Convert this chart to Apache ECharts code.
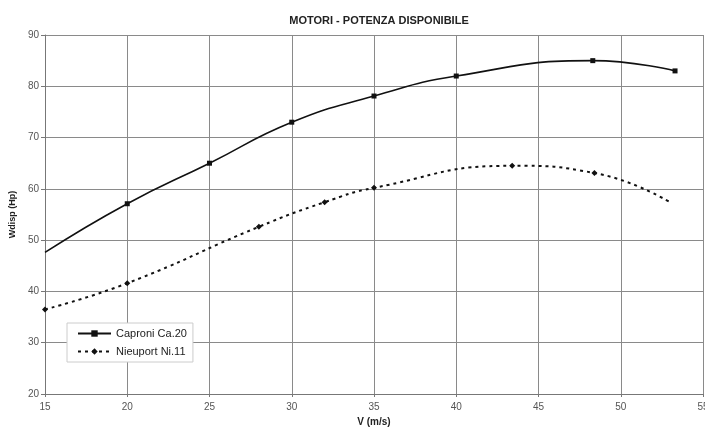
<!DOCTYPE html>
<html>
<head>
<meta charset="utf-8">
<script src="https://cdn.jsdelivr.net/npm/echarts@6/dist/echarts.min.js"></script>
<style>
  html, body { margin: 0; padding: 0; background: #fff; }
  #chart { width: 705px; height: 430px; }
</style>
</head>
<body>
<div id="chart"></div>
<script>
// values
const seriesNames = ['Caproni Ca.20', 'Nieuport Ni.11']

// [V, power, hasMarker]
const caproniPoints = [
    [15, 47.6, false],
    [20, 57.1, true],
    [25, 65.0, true],
    [30, 73.0, true],
    [35, 78.1, true],
    [40, 82.0, true],
    [48.3, 85.0, true],
    [53.3, 83.0, true]
]
const nieuportPoints = [
    [15, 36.5, true],
    [20, 41.6, true],
    [28, 52.6, true],
    [32, 57.4, true],
    [35, 60.2, true],
    [43.4, 64.5, true],
    [48.4, 63.1, true],
    [53.1, 57.2, false]
]

const xTicks = { min: 15, max: 55, interval: 5 }
const yTicks = { min: 20, max: 90, interval: 10 }

const font = '"Liberation Sans Narrow", "Liberation Sans", Arial, sans-serif'

function toData(points) {
    return points.map(p => p[2] ? [p[0], p[1]] : { value: [p[0], p[1]], symbol: 'none' })
}

const chart = echarts.init(document.getElementById('chart'))

chart.setOption({
    animation: false,
    backgroundColor: '#fff',
    title: {
        text: 'MOTORI - POTENZA DISPONIBILE',
        left: 374,
        textAlign: 'center',
        top: 10,
        textStyle: { fontFamily: font, fontSize: 11, fontWeight: 'bold', color: '#222' }
    },
    grid: { left: 45, right: 2, top: 35, bottom: 36, outerBoundsMode: 'none', containLabel: false },
    legend: {
        orient: 'vertical',
        left: 67,
        top: 323,
        itemWidth: 33,
        itemHeight: 8,
        itemGap: 7,
        padding: [5, 6, 5, 10],
        backgroundColor: '#fff',
        borderColor: '#ccc',
        borderWidth: 1,
        textStyle: { fontFamily: font, fontSize: 11, color: '#222' },
        data: seriesNames
    },
    xAxis: {
        type: 'value',
        min: xTicks.min,
        max: xTicks.max,
        interval: xTicks.interval,
        name: 'V (m/s)',
        nameLocation: 'middle',
        nameGap: 22,
        nameTextStyle: { fontFamily: font, fontSize: 10, fontWeight: 'bold', color: '#222' },
        axisLine: { lineStyle: { color: '#777' } },
        axisTick: { show: true, length: 3, lineStyle: { color: '#777' } },
        axisLabel: { fontFamily: font, fontSize: 10, color: '#555', margin: 8 },
        splitLine: { lineStyle: { color: '#8a8a8a', width: 1 } }
    },
    yAxis: {
        type: 'value',
        min: yTicks.min,
        max: yTicks.max,
        interval: yTicks.interval,
        name: 'Wdisp (Hp)',
        nameLocation: 'middle',
        nameGap: 23,
        nameTextStyle: { fontFamily: font, fontSize: 9, fontWeight: 'bold', color: '#222' },
        axisLine: { show: true, lineStyle: { color: '#777' } },
        axisTick: { show: true, length: 4, lineStyle: { color: '#777' } },
        axisLabel: { fontFamily: font, fontSize: 10, color: '#555', margin: 6 },
        splitLine: { lineStyle: { color: '#8a8a8a', width: 1 } }
    },
    series: [
        {
            name: seriesNames[0],
            type: 'line',
            smooth: 0.5,
            data: toData(caproniPoints),
            symbol: 'rect',
            symbolSize: 5,
            color: '#111',
            lineStyle: { color: '#111', width: 1.6 },
            itemStyle: { color: '#111' },
            z: 3
        },
        {
            name: seriesNames[1],
            type: 'line',
            smooth: 0.5,
            data: toData(nieuportPoints),
            symbol: 'diamond',
            symbolSize: 6,
            color: '#111',
            lineStyle: { color: '#111', width: 2, type: [3, 4] },
            itemStyle: { color: '#111' },
            z: 3
        }
    ]
})
</script>
</body>
</html>
